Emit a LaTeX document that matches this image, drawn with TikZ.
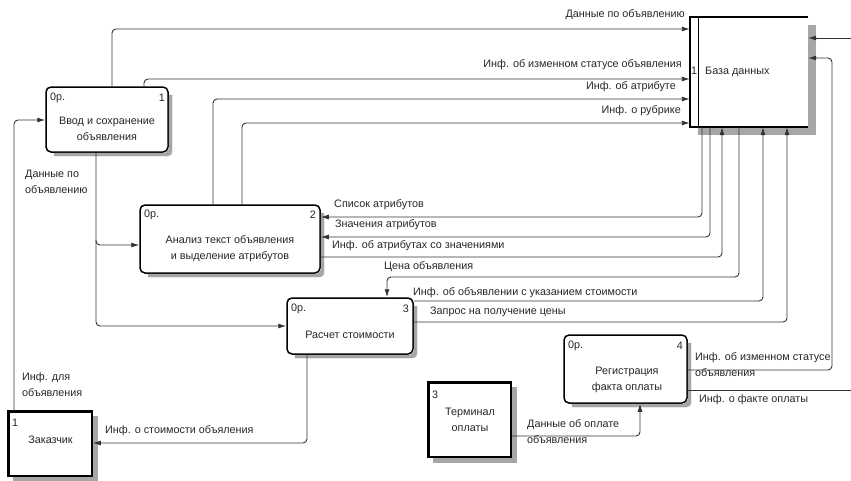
\documentclass[tikz,border=0pt]{standalone}
\usepackage{fontspec}
\setmainfont{Liberation Sans}
\usetikzlibrary{arrows.meta}
\begin{document}
\begin{tikzpicture}[x=1pt,y=-1pt,
  every node/.style={font=\fontsize{10.8}{16}\selectfont, text=black!85, inner sep=0pt},
  proc/.style={draw=black, line width=1.5pt, rounded corners=5pt, fill=white},
  ext/.style={draw=black, line width=1.5pt, fill=white},
  shd/.style={fill=black!35, draw=black!35, line width=0.2pt},
  flow/.style={draw=black!80, line width=0.9pt, rounded corners=4pt},
  arr/.style={flow, -{Latex[length=8pt,width=5pt]}},
  lbl/.style={align=left},
  ctext/.style={align=center},
]
\useasboundingbox (0,0) rectangle (851,480);
\clip (0,0) rectangle (851,480);

% ---------- process boxes ----------
\node[proc, minimum width=122pt, minimum height=65pt] (p1) at (107,119.5) {};
\node[proc, minimum width=180pt, minimum height=68pt] (p2) at (230,239) {};
\node[proc, minimum width=126pt, minimum height=56pt] (p3) at (350,326) {};
\node[proc, minimum width=123pt, minimum height=68pt] (p4) at (625.5,369) {};

% ---------- external entities ----------
\node[ext, minimum width=83pt, minimum height=64pt] (e1) at (50.5,444) {};
\node[ext, minimum width=82pt, minimum height=74pt] (e3) at (470,420) {};

% ---------- data store ----------
\node[minimum width=118pt, minimum height=110pt] (db) at (749,72) {};

% ---------- shadows: strips right and below ----------
\filldraw[shd] (169,95) -- (172,95) -- (172,152) [rounded corners=4pt] -- (172,156) [sharp corners] -- (54,156) -- (54,153) -- (165,153) -- (169,149) -- cycle;
\filldraw[shd] (321,213) -- (324,213) -- (324,273) [rounded corners=4pt] -- (324,277) [sharp corners] -- (148,277) -- (148,274) -- (317,274) -- (321,270) -- cycle;
\filldraw[shd] (414,306) -- (417,306) -- (417,354) [rounded corners=4pt] -- (417,358) [sharp corners] -- (295,358) -- (295,355) -- (410,355) -- (414,351) -- cycle;
\filldraw[shd] (688,343) -- (691,343) -- (691,403) [rounded corners=4pt] -- (691,407) [sharp corners] -- (572,407) -- (572,404) -- (684,404) -- (688,400) -- cycle;
\filldraw[shd] (93,416) -- (97,416) -- (97,480) -- (13,480) -- (13,477) -- (93,477) -- cycle;
\filldraw[shd] (512,387) -- (516,387) -- (516,462) -- (433,462) -- (433,458) -- (512,458) -- cycle;
\filldraw[shd] (808.5,25) rectangle (815,134);
\filldraw[shd] (698,128.2) rectangle (808.5,134);

% ---------- box decorations and texts ----------
\draw[line width=3.5pt] (e1.south west) -- (e1.north west) -- (e1.north east);
\draw[line width=3.5pt] (e3.south west) -- (e3.north west) -- (e3.north east);
\draw[line width=1.6pt] (db.north east) -- (db.north west) -- (db.south west) -- (db.south east);
\draw[line width=1pt] (698,0 |- db.north) -- (698,0 |- db.south);

\node[ctext] (p1t) at (107,129) {Ввод и сохранение\\объявления};
\node[anchor=west] (p1a) at (50,98) {0р.};
\node[anchor=east] (p1n) at (165,98) {1};
\node[ctext] (p2t) at (230,248.5) {Анализ текст объявления\\и выделение атрибутов};
\node[anchor=west] (p2a) at (144,215) {0р.};
\node[anchor=east] (p2n) at (316,215) {2};
\node[ctext] (p3t) at (350,335) {Расчет стоимости};
\node[anchor=west] (p3a) at (291,309) {0р.};
\node[anchor=east] (p3n) at (409,309) {3};
\node[ctext] (p4t) at (627,379.5) {Регистрация\\факта оплаты};
\node[anchor=west] (p4a) at (568,346) {0р.};
\node[anchor=east] (p4n) at (683,346) {4};
\node[ctext] (e1t) at (50.5,440) {Заказчик};
\node[anchor=west] (e1n) at (12,423) {1};
\node[ctext] (e3t) at (470,420) {Терминал\\оплаты};
\node[anchor=west] (e3n) at (432,395) {3};
\node (dbn) at (694,71) {1};
\node[anchor=west] (dbt) at (705,72) {База данных};

% ---------- connectors into the data store ----------
\draw[arr] (112,0 |- p1.north) -- (112,29) -- (db.west |- 0,29);
\node[anchor=east] (l1) at (685,15) {Данные по объявлению};

\draw[arr] (144,0 |- p1.north) -- (144,79) -- (db.west |- 0,79);
\node[anchor=east] (l2) at (682,65) {Инф. об изменном статусе объявления};

\draw[arr] (213,0 |- p2.north) -- (213,99) -- (db.west |- 0,99);
\node[anchor=east] (l3) at (676,87) {Инф. об атрибуте};

\draw[arr] (242,0 |- p2.north) -- (242,123) -- (db.west |- 0,123);
\node[anchor=east] (l4) at (681,111) {Инф. о рубрике};

% ---------- connectors below the data store ----------
\draw[arr] (702,0 |- db.south) -- (702,217) -- (p2.east |- 0,217);
\node[anchor=west] (l5) at (334,205) {Список атрибутов};

\draw[arr] (710,0 |- db.south) -- (710,237) -- (p2.east |- 0,237);
\node[anchor=west] (l6) at (335,225) {Значения атрибутов};

\draw[arr] (p2.east |- 0,257) -- (722,257) -- (722,0 |- db.south);
\node[anchor=west] (l7) at (332,246) {Инф. об атрибутах со значениями};

\draw[arr] (739,0 |- db.south) -- (739,277) -- (387,277) -- (387,0 |- p3.north);
\node[anchor=west] (l8) at (384,267) {Цена объявления};

\draw[arr] (p3.east |- 0,301) -- (763,301) -- (763,0 |- db.south);
\node[anchor=west] (l9) at (413,293) {Инф. об объявлении с указанием стоимости};

\draw[arr] (p3.east |- 0,322) -- (787,322) -- (787,0 |- db.south);
\node[anchor=west] (l10) at (430,312) {Запрос на получение цены};

% ---------- right side ----------
\draw[arr] (p4.east |- 0,370) -- (832,370) -- (832,58) -- (db.east |- 0,58);
\node[lbl, anchor=north west] (l11) at (695,352) {Инф. об изменном статусе\\объявления};

\coordinate (out1) at (851,390);
\coordinate (in1) at (851,38);
\draw[flow] (p4.east |- 0,390) -- (out1);
\draw[arr] (in1) -- (db.east |- in1);
\node[anchor=west] (l12) at (699,400) {Инф. о факте оплаты};

% ---------- left side ----------
\draw[arr] (14,0 |- e1.north) -- (14,120) -- (p1.west |- 0,120);
\node[lbl, anchor=north west] (l13) at (22,372) {Инф. для\\объявления};

\draw[arr] (96,0 |- p1.south) -- (96,245) -- (p2.west |- 0,245);
\draw[arr] (96,240) -- (96,326) -- (p3.west |- 0,326);
\node[lbl, anchor=north west] (l14) at (25,170) {Данные по\\объявлению};

\draw[arr] (307,0 |- p3.south) -- (307,443) -- (e1.east |- 0,443);
\node[anchor=west] (l15) at (105,431) {Инф. о стоимости объяления};

\draw[arr] (e3.east |- 0,436) -- (640,436) -- (640,0 |- p4.south);
\node[lbl, anchor=north west] (l16) at (527,419) {Данные об оплате\\объявления};
\end{tikzpicture}
\end{document}
